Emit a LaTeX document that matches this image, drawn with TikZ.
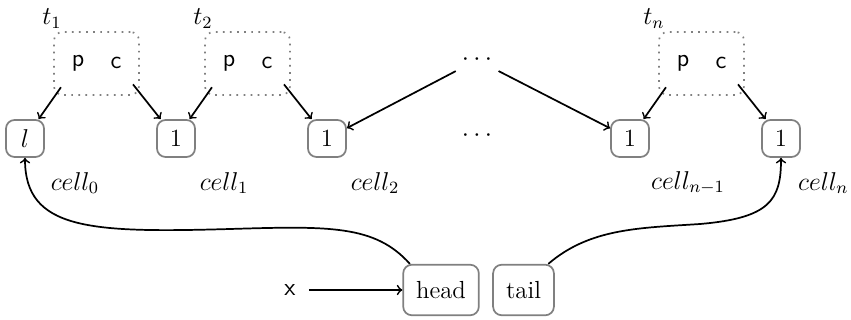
\documentclass[tikz,border=0pt]{standalone}
\begin{document}
\begin{tikzpicture}[x=0.465pt,y=-0.465pt,
  every node/.style={font=\fontsize{11.5}{13}\selectfont},
  cellbox/.style={draw=black!50, line width=0.8pt, rounded corners=4pt, minimum width=17.7pt, minimum height=17.2pt, inner sep=0pt},
  regbox/.style={draw=black!50, line width=0.8pt, rounded corners=4pt, minimum height=23.5pt, minimum width=12pt, inner xsep=6pt, inner ysep=0pt},
  thread/.style={draw=black!50, dash pattern=on 0.8pt off 2.5pt, line width=0.8pt, rounded corners=4pt, minimum width=39.5pt, minimum height=29.3pt, inner sep=0pt},
  lab/.style={inner sep=0pt},
  arr/.style={->, line width=0.8pt}]
\useasboundingbox (0,0) rectangle (851,320);
% threads
\node[thread] (t1box) at (96.5,63.5) {};
\node[thread] (t2box) at (247.5,63.5) {};
\node[thread] (tnbox) at (701.5,63.5) {};
\node[lab] (t1) at (52,19) {$t_1$};
\node[lab] (t2) at (203,19) {$t_2$};
\node[lab] (tn) at (654,19) {$t_n$};
\node[lab] (p1) at (78,63) {\sffamily p};
\node[lab] (q1) at (116,63) {\sffamily c};
\node[lab] (p2) at (229,63) {\sffamily p};
\node[lab] (q2) at (267,63) {\sffamily c};
\node[lab] (pn) at (683,63) {\sffamily p};
\node[lab] (qn) at (721,63) {\sffamily c};
\node[lab] (dtop) at (477,60) {$\cdots$};
\node[lab] (dmid) at (477,136) {$\cdots$};
% cells
\node[cellbox] (c0) at (25,138.5) {$l$};
\node[cellbox] (c1) at (176,138.5) {1};
\node[cellbox] (c2) at (327,138.5) {1};
\node[cellbox] (cm) at (630,138.5) {1};
\node[cellbox] (cn) at (781,138.5) {1};
\node[lab] (l0) at (75,183) {$cell_0$};
\node[lab] (l1) at (224,183) {$cell_1$};
\node[lab] (l2) at (375,183) {$cell_2$};
\node[lab] (lm) at (688,183) {$cell_{n-1}$};
\node[lab, anchor=east] (ln) at (849,183) {$cell_n$};
% head / tail
\node[regbox] (head) at (441,290) {head};
\node[regbox] (tail) at (523.5,290) {tail};
\node[lab] (x) at (290,290) {\sffamily x};
% arrows
\draw[arr, shorten <=9pt] (p1) -- (c0);
\draw[arr, shorten <=9pt] (q1) -- (c1);
\draw[arr, shorten <=9pt] (p2) -- (c1);
\draw[arr, shorten <=9pt] (q2) -- (c2);
\draw[arr, shorten <=9pt] (pn) -- (cm);
\draw[arr, shorten <=9pt] (qn) -- (cn);
\draw[arr, shorten <=5pt] (dtop) -- (c2);
\draw[arr, shorten <=5pt] (dtop) -- (cm);
\draw[arr, shorten <=6pt] (x) -- (head);
\draw[arr] ([xshift=3.5pt]head.north west) .. controls (375,225) and (330,226) .. (230,229)
  .. controls (90,233) and (25,230) .. (c0.south);
\draw[arr] ([xshift=-3pt]tail.north east) .. controls (590,228) and (640,228) .. (700,224)
  .. controls (770,218) and (781,200) .. (cn.south);
\end{tikzpicture}
\end{document}
